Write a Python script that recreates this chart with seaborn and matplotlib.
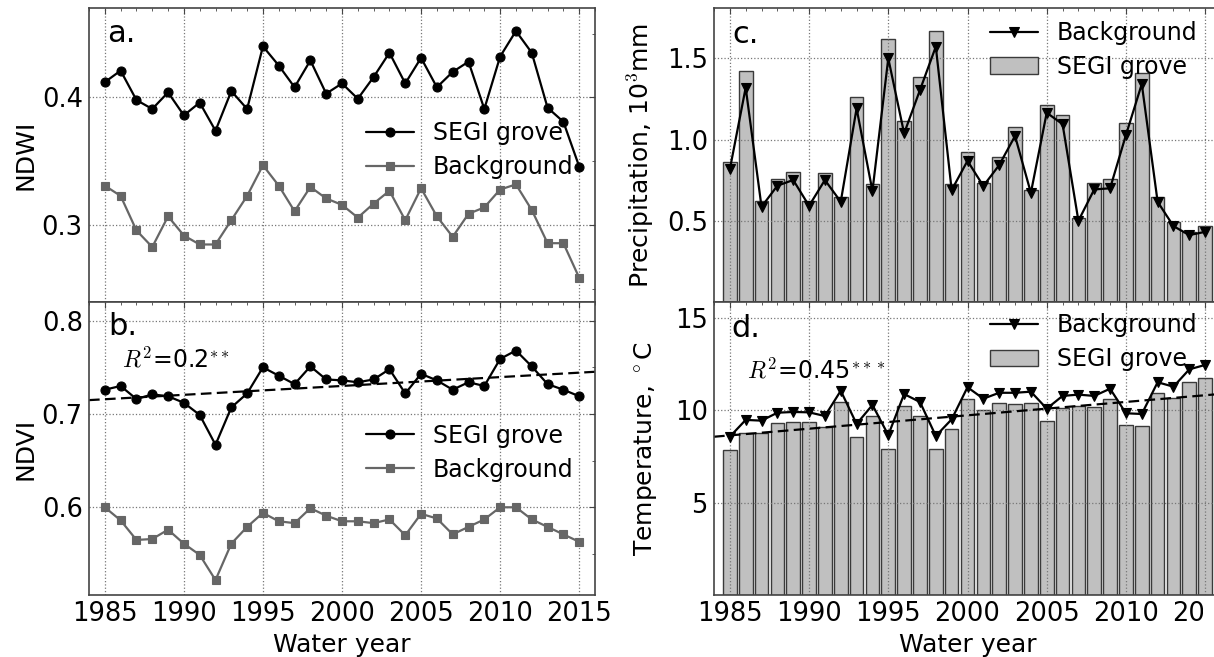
import numpy as np
import matplotlib
matplotlib.use("Agg")
import matplotlib.pyplot as plt
import seaborn as sns
from matplotlib.ticker import FixedLocator, MultipleLocator, FormatStrFormatter
from matplotlib.transforms import Bbox

# ---------------- data ----------------
years = list(range(1985, 2016))

ndwi_segi = [0.412, 0.421, 0.398, 0.391, 0.404, 0.386, 0.396, 0.374, 0.405, 0.391,
             0.440, 0.425, 0.408, 0.429, 0.403, 0.411, 0.399, 0.416, 0.435, 0.411,
             0.431, 0.408, 0.420, 0.428, 0.391, 0.432, 0.452, 0.435, 0.392, 0.381,
             0.346]
ndwi_bg = [0.331, 0.323, 0.296, 0.283, 0.307, 0.292, 0.285, 0.285, 0.304, 0.323,
           0.347, 0.331, 0.311, 0.330, 0.321, 0.316, 0.306, 0.317, 0.327, 0.304,
           0.329, 0.307, 0.291, 0.309, 0.314, 0.328, 0.332, 0.312, 0.286, 0.286,
           0.259]
ndvi_segi = [0.726, 0.730, 0.716, 0.721, 0.719, 0.712, 0.699, 0.667, 0.707, 0.722,
             0.750, 0.741, 0.732, 0.751, 0.737, 0.736, 0.734, 0.737, 0.748, 0.722,
             0.743, 0.736, 0.726, 0.734, 0.730, 0.759, 0.768, 0.751, 0.732, 0.726,
             0.719]
ndvi_bg = [0.600, 0.586, 0.565, 0.566, 0.576, 0.561, 0.549, 0.522, 0.561, 0.579,
           0.594, 0.585, 0.583, 0.599, 0.591, 0.585, 0.585, 0.583, 0.587, 0.570,
           0.593, 0.588, 0.571, 0.579, 0.587, 0.600, 0.600, 0.587, 0.579, 0.571,
           0.563]
precip_segi = [0.863, 1.422, 0.620, 0.757, 0.800, 0.623, 0.796, 0.644, 1.264, 0.724,
               1.617, 1.116, 1.383, 1.670, 0.724, 0.925, 0.734, 0.894, 1.075, 0.689,
               1.212, 1.153, 0.517, 0.730, 0.755, 1.100, 1.408, 0.644, 0.494, 0.429,
               0.467]
precip_bg = [0.817, 1.320, 0.586, 0.716, 0.751, 0.592, 0.751, 0.617, 1.192, 0.683,
             1.500, 1.038, 1.305, 1.572, 0.689, 0.869, 0.714, 0.843, 1.022, 0.672,
             1.165, 1.095, 0.500, 0.693, 0.700, 1.028, 1.342, 0.617, 0.467, 0.412,
             0.432]
temp_segi = [7.86, 8.80, 8.80, 9.31, 9.35, 9.35, 9.12, 10.44, 8.58, 9.70,
             7.91, 10.26, 9.72, 7.93, 8.98, 10.64, 10.03, 10.39, 10.34, 10.39,
             9.45, 10.12, 10.26, 10.21, 10.61, 9.23, 9.18, 10.93, 10.66, 11.56,
             11.78]
temp_bg = [8.58, 9.49, 9.45, 9.88, 9.92, 9.90, 9.70, 11.07, 9.27, 10.30,
           8.67, 10.89, 10.46, 8.62, 9.52, 11.26, 10.64, 10.96, 10.96, 11.02,
           10.10, 10.79, 10.86, 10.79, 11.18, 9.85, 9.81, 11.53, 11.29, 12.23,
           12.47]

xticks = [1985, 1990, 1995, 2000, 2005, 2010, 2015]

# ---------------- style ----------------
sns.set_theme(style="white")
plt.rcParams["font.family"] = ["DejaVu Sans"]
plt.rcParams["mathtext.fontset"] = "cm"
plt.rcParams["mathtext.rm"] = "DejaVu Sans"
plt.rcParams["text.color"] = "black"
plt.rcParams["axes.labelcolor"] = "black"
plt.rcParams["xtick.color"] = "black"
plt.rcParams["ytick.color"] = "black"

TICK_FS = 18.5
LAB_FS = 18
LEG_FS = 17
SPINE_C = "#444444"

fig = plt.figure(figsize=(12.14, 6.57), dpi=100)
W, H = 1214, 657


def axes_px(x0, y0, x1, y1):
    return fig.add_axes([x0 / W, (H - y1) / H, (x1 - x0) / W, (y1 - y0) / H])


ax_a = axes_px(89, 8, 595, 302)
ax_b = axes_px(89, 302, 595, 595)
ax_c = axes_px(714, 8, 1221, 302)
ax_d = axes_px(714, 302, 1221, 595)

XLIM = (1984, 2016)


def style_axes(ax, majors, minors, fmt, show_x):
    ax.set_xlim(*XLIM)
    ax.xaxis.set_major_locator(FixedLocator(xticks))
    ax.xaxis.set_minor_locator(MultipleLocator(1))
    ax.yaxis.set_major_locator(FixedLocator(majors))
    ax.yaxis.set_minor_locator(FixedLocator(minors))
    ax.yaxis.set_major_formatter(FormatStrFormatter(fmt))
    ax.tick_params(which="both", direction="in", top=True, right=True,
                   color=SPINE_C, labelsize=TICK_FS, labelcolor="black")
    ax.tick_params(which="major", length=4, width=0.8, pad=4.5)
    ax.tick_params(which="minor", length=2.5, width=0.6)
    ax.tick_params(axis="x", labelbottom=show_x)
    ax.grid(True, which="major", ls=":", lw=0.9, color="#777777")
    ax.set_axisbelow("line")
    for s in ax.spines.values():
        s.set_color(SPINE_C)
        s.set_linewidth(1.2)
    ax.set_facecolor("white")


def line(ax, y, color, marker, ms, label):
    sns.lineplot(x=years, y=y, ax=ax, color=color, marker=marker, markersize=ms,
                 markeredgecolor=color, markeredgewidth=0.8, linewidth=1.6,
                 label=label)


def legend(ax, order, anchor):
    h, l = ax.get_legend_handles_labels()
    d = dict(zip(l, h))
    ax.legend([d[k] for k in order], order, loc="upper left",
              bbox_to_anchor=anchor, frameon=False, fontsize=LEG_FS,
              numpoints=1, borderpad=0, borderaxespad=0,
              handlelength=2.05, handletextpad=0.8, labelspacing=0.42)


# ---- panel a ----
line(ax_a, ndwi_segi, "black", "o", 6.5, "SEGI grove")
line(ax_a, ndwi_bg, "#666666", "s", 6, "Background")
style_axes(ax_a, [0.3, 0.4], [0.25, 0.35, 0.45], "%.1f", False)
ax_a.set_ylim(0.24, 0.47)
ax_a.set_ylabel("NDWI", fontsize=LAB_FS)
ax_a.yaxis.set_label_coords(-0.102, 0.5)
ax_a.set_xlabel("")
legend(ax_a, ["SEGI grove", "Background"], (0.547, 0.616))
ax_a.text(0.036, 0.885, "a.", transform=ax_a.transAxes, fontsize=22, va="baseline")

# ---- panel b ----
line(ax_b, ndvi_segi, "black", "o", 6.5, "SEGI grove")
line(ax_b, ndvi_bg, "#666666", "s", 6, "Background")
style_axes(ax_b, [0.6, 0.7, 0.8], [0.55, 0.65, 0.75], "%.1f", True)
ax_b.set_ylim(0.506, 0.82)
sns.regplot(x=np.array(years), y=np.array(ndvi_segi), ax=ax_b, scatter=False,
            ci=None, truncate=False, color="black",
            line_kws=dict(lw=1.6, dashes=(4.8, 2.4)))
ax_b.set_xlim(*XLIM)
ax_b.set_ylim(0.506, 0.82)
ax_b.set_ylabel("NDVI", fontsize=LAB_FS)
ax_b.yaxis.set_label_coords(-0.102, 0.5)
ax_b.set_xlabel("Water year", fontsize=LAB_FS)
ax_b.xaxis.set_label_coords(0.5, -0.128)
legend(ax_b, ["SEGI grove", "Background"], (0.547, 0.585))
ax_b.text(0.038, 0.887, "b.", transform=ax_b.transAxes, fontsize=22, va="baseline")
ax_b.text(0.065, 0.777, r"$R^2$=0.2$^{**}$", transform=ax_b.transAxes,
          fontsize=17, va="baseline")

# ---- panel c ----
sns.barplot(x=years, y=precip_segi, ax=ax_c, native_scale=True, width=0.86,
            color="#c0c0c0", saturation=1, edgecolor="#3a3a3a", linewidth=1.0,
            label="SEGI grove", errorbar=None)
line(ax_c, precip_bg, "black", "v", 6.5, "Background")
style_axes(ax_c, [0.5, 1.0, 1.5], [0.25, 0.75, 1.25, 1.75], "%.1f", False)
ax_c.set_ylim(0, 1.81)
ax_c.set_ylabel(r"Precipitation, 10$^3$mm", fontsize=LAB_FS)
ax_c.yaxis.set_label_coords(-0.114, 0.5)
ax_c.set_xlabel("")
legend(ax_c, ["Background", "SEGI grove"], (0.544, 0.956))
ax_c.text(0.037, 0.88, "c.", transform=ax_c.transAxes, fontsize=22, va="baseline")

# ---- panel d ----
sns.barplot(x=years, y=temp_segi, ax=ax_d, native_scale=True, width=0.86,
            color="#c0c0c0", saturation=1, edgecolor="#3a3a3a", linewidth=1.0,
            label="SEGI grove", errorbar=None)
line(ax_d, temp_bg, "black", "v", 6.5, "Background")
style_axes(ax_d, [5, 10, 15], [2.5, 7.5, 12.5], "%d", True)
sns.regplot(x=np.array(years), y=np.array(temp_segi), ax=ax_d, scatter=False,
            ci=None, truncate=False, color="black",
            line_kws=dict(lw=1.6, dashes=(4.8, 2.4)))
ax_d.set_xlim(*XLIM)
ax_d.set_ylim(0, 15.88)
ax_d.set_ylabel(r"Temperature, $^\circ$C", fontsize=LAB_FS)
ax_d.yaxis.set_label_coords(-0.108, 0.5)
ax_d.set_xlabel("Water year", fontsize=LAB_FS)
ax_d.xaxis.set_label_coords(0.5, -0.128)
legend(ax_d, ["Background", "SEGI grove"], (0.544, 0.961))
ax_d.text(0.035, 0.882, "d.", transform=ax_d.transAxes, fontsize=22, va="baseline")
ax_d.text(0.0645, 0.74, r"$R^2$=0.45$^{***}$", transform=ax_d.transAxes,
          fontsize=17, va="baseline")

# the original figure was cropped at its right edge: the last year label shows "20"
fig.canvas.draw()
last = ax_d.xaxis.get_major_ticks()[-1].label1
last.set_clip_box(Bbox([[0, 0], [1203, H]]))
last.set_clip_on(True)

fig.savefig("out.png", dpi=100)
